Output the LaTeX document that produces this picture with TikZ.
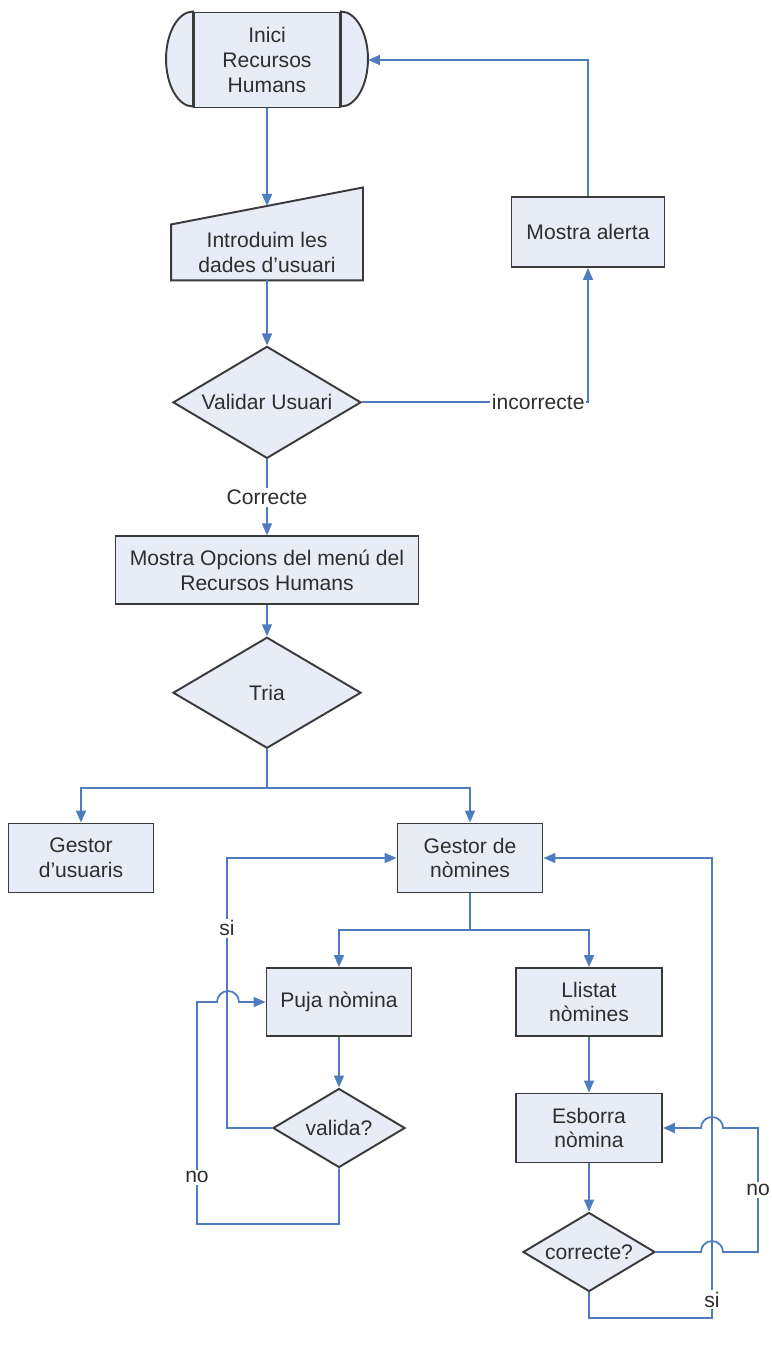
\documentclass[tikz,border=0pt]{standalone}
\usepackage{fontspec}
\setmainfont{Liberation Sans}
\usepackage{xcolor}
\usetikzlibrary{shapes.geometric, arrows.meta, positioning, backgrounds}
\definecolor{flowblue}{HTML}{4F7BC0}
\definecolor{boxfill}{HTML}{E8ECF6}
\definecolor{boxline}{HTML}{3A3A3A}
\definecolor{txtgray}{HTML}{2E2E2E}
\tikzset{
  box/.style={rectangle, draw=boxline, fill=boxfill, line width=1.1pt, align=center, text=txtgray, font=\fontsize{12}{14}\selectfont, inner sep=2pt},
  decision/.style={diamond, aspect=1.68, draw=boxline, fill=boxfill, line width=1.1pt, align=center, text=txtgray, font=\fontsize{12}{14}\selectfont, inner sep=0pt},
  shapeline/.style={draw=boxline, fill=boxfill, line width=1.1pt},
  arrow/.style={-{Triangle[length=0.24cm, width=0.2cm]}, draw=flowblue, line width=1pt},
  link/.style={draw=flowblue, line width=1pt},
  lbl/.style={fill=white, text=txtgray, font=\fontsize{12}{14}\selectfont, inner sep=1pt},
}

\begin{document}
\begin{tikzpicture}
    \useasboundingbox (0,0) rectangle (15.42,-27);
    % main column
    \node[box, minimum width=2.92cm, minimum height=1.9cm] (start) at (5.34,-1.2) {Inici\\Recursos\\Humans};
    \draw[shapeline] (start.north west) arc[start angle=90, end angle=270, x radius=0.54cm, y radius=0.95cm] -- cycle;
    \draw[shapeline] (start.north east) arc[start angle=90, end angle=-90, x radius=0.54cm, y radius=0.95cm] -- cycle;
    \node[box, draw=none, fill=none, minimum width=3.8cm, minimum height=1.08cm, below=2.32cm of start] (input) {Introduim les\\dades d’usuari};
    \begin{scope}[on background layer]
      \draw[shapeline] (input.south west) -- (input.north west) -- ([yshift=0.74cm]input.north east) -- (input.south east) -- cycle;
    \end{scope}
    \node[decision, minimum width=3.76cm, minimum height=2.24cm, below=1.3cm of input] (validar) {Validar Usuari};
    \node[box, minimum width=6.06cm, minimum height=1.36cm, below=1.52cm of validar] (menu) {Mostra Opcions del menú del\\Recursos Humans};
    \node[decision, minimum width=3.76cm, minimum height=2.22cm, below=0.62cm of menu] (tria) {Tria};
    \node[box, minimum width=3.06cm, minimum height=1.4cm] (alert) at (11.76,-4.64) {Mostra alerta};

    % gestors
    \node[box, minimum width=2.9cm, minimum height=1.38cm] (usuaris) at (1.62,-17.16) {Gestor\\d’usuaris};
    \node[box, minimum width=2.9cm, minimum height=1.38cm] (nomines) at (9.4,-17.16) {Gestor de\\nòmines};
    \node[box, minimum width=2.9cm, minimum height=1.36cm] (puja) at (6.78,-20.04) {Puja nòmina};
    \node[box, minimum width=2.92cm, minimum height=1.36cm] (llistat) at (11.78,-20.04) {Llistat\\nòmines};
    \node[decision, minimum width=2.64cm, minimum height=1.58cm] (valida) at (6.78,-22.56) {valida?};
    \node[box, minimum width=2.92cm, minimum height=1.38cm] (esborra) at (11.78,-22.56) {Esborra\\nòmina};
    \node[decision, minimum width=2.64cm, minimum height=1.58cm] (correcte) at (11.78,-25.04) {correcte?};
    \coordinate (split1) at (5.34,-15.76);
    \coordinate (split2) at (9.4,-18.6);

    \draw[arrow] (start) -- ([yshift=0.37cm]input.north);
    \draw[arrow] (input) -- (validar);
    \draw[arrow] (validar.east) -- node[lbl, pos=0.78] {incorrecte} (validar.east -| alert) -- (alert.south);
    \draw[arrow] (alert.north) |- ([xshift=0.54cm]start.east);
    \draw[arrow] (validar) -- node[lbl] {Correcte} (menu);
    \draw[arrow] (menu) -- (tria);
    \draw[link] (tria.south) -- (split1);
    \draw[arrow] (split1) -| (usuaris.north);
    \draw[arrow] (split1) -| (nomines.north);
    \draw[link] (nomines) -- (split2);
    \draw[arrow] (split2) -| (puja.north);
    \draw[arrow] (split2) -| (llistat.north);
    \draw[arrow] (puja) -- (valida);
    \draw[arrow] (llistat) -- (esborra);
    \draw[arrow] (esborra) -- (correcte);

    % loops
    \draw[arrow] (valida.west) -- ++(-0.9,0) |- node[lbl, pos=0.37] {si} (nomines.west);
    \draw[arrow] (valida.south) |- (3.94,-24.48) -- node[lbl, pos=0.21] {no} (3.94,-20.04) -- (4.34,-20.04)
      arc[start angle=180, end angle=0, radius=0.22] -- (puja.west);
    \draw[arrow] (correcte.south) |- (14.24,-26.36) -- node[lbl, pos=0.04] {si} (14.24,-17.16) -- (nomines.east);
    \draw[arrow] (correcte.east) -- (14.02,-25.04) arc[start angle=180, end angle=0, radius=0.22] -- (15.16,-25.04)
      -- node[lbl] {no} (15.16,-22.56) -- (14.46,-22.56) arc[start angle=0, end angle=180, radius=0.22] -- (esborra.east);
\end{tikzpicture}
\end{document}
